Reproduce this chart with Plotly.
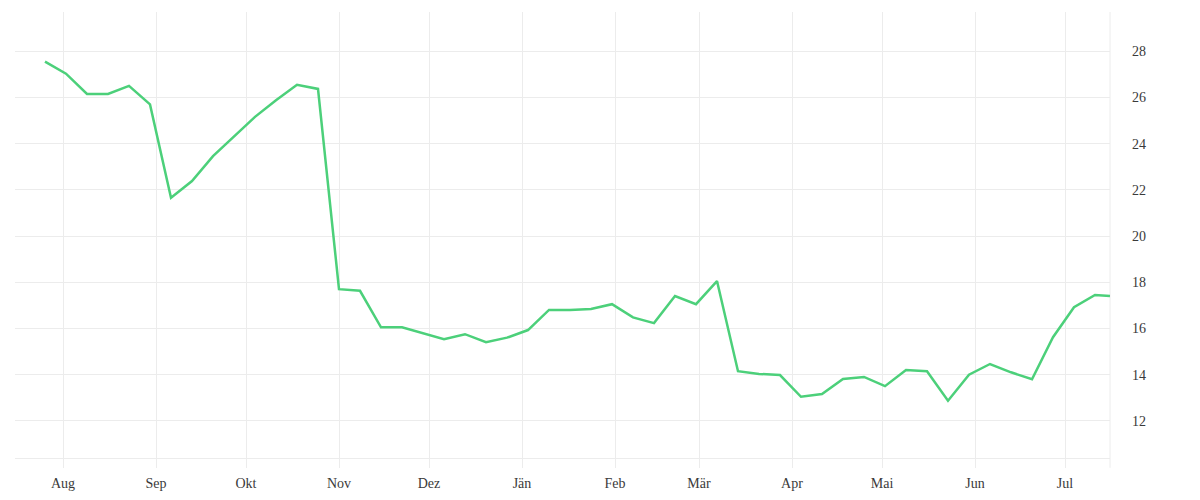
import pandas as pd
import plotly.graph_objects as go

# weekly values
week_start = "2022-07-26"
values = [
	27.55, 27.03, 26.15, 26.15, 26.5, 25.7, 21.66, 22.38, 23.46, 24.3,
	25.16, 25.88, 26.55, 26.37, 17.7, 17.63, 16.05, 16.05, 15.8, 15.53,
	15.75, 15.4, 15.6, 15.93, 16.8, 16.8, 16.84, 17.05, 16.48, 16.23,
	17.4, 17.05, 18.05, 14.15, 14.03, 13.98, 13.04, 13.16, 13.81, 13.9,
	13.5, 14.2, 14.15, 12.87, 14.0, 14.46, 14.1, 13.8, 15.62, 16.92,
	17.45,
]
last_date = "2023-07-16"
last_value = 17.4

month_ticks = [
	"2022-08-01", "2022-09-01", "2022-10-01", "2022-11-01", "2022-12-01", "2023-01-01",
	"2023-02-01", "2023-03-01", "2023-04-01", "2023-05-01", "2023-06-01", "2023-07-01",
]
month_labels = ["Aug", "Sep", "Okt", "Nov", "Dez", "Jän", "Feb", "Mär", "Apr", "Mai", "Jun", "Jul"]

y_ticks = [12, 14, 16, 18, 20, 22, 24, 26, 28]

dates = list(pd.date_range(week_start, periods=len(values), freq="7D")) + [pd.Timestamp(last_date)]
ys = values + [last_value]

grid = "#ececec"
font = dict(family="Liberation Serif, DejaVu Serif, serif", size=14, color="#3a3a3a")

fig = go.Figure(go.Scatter(
	x=dates, y=ys, mode="lines",
	line=dict(color="#4cd07a", width=2.5),
	hoverinfo="x+y",
))

# page body has an 8px margin, so the figure is 1184x484
fig.update_layout(
	width=1184, height=484,
	margin=dict(l=7, r=82, t=4, b=34),
	paper_bgcolor="white", plot_bgcolor="white",
	font=font,
	showlegend=False,
)

fig.update_xaxes(
	range=["2022-07-16", "2023-07-16"],
	tickvals=month_ticks, ticktext=month_labels,
	showgrid=True, gridcolor=grid, gridwidth=1,
	showline=True, linecolor=grid, linewidth=1,
	ticks="outside", ticklen=9, tickcolor=grid,
	ticklabelstandoff=3,
	zeroline=False,
	automargin=False,
)

fig.update_yaxes(
	side="right",
	range=[10.39, 29.7],
	tickvals=y_ticks,
	showgrid=True, gridcolor=grid, gridwidth=1,
	zeroline=False,
	ticklabelstandoff=21,
	automargin=False,
)

# right border line reaching down like the month ticks
fig.add_shape(
	type="line", xref="paper", yref="paper",
	x0=1, x1=1, y0=-0.022, y1=1,
	line=dict(color=grid, width=1),
	layer="below",
)

fig.write_html("out.html")
